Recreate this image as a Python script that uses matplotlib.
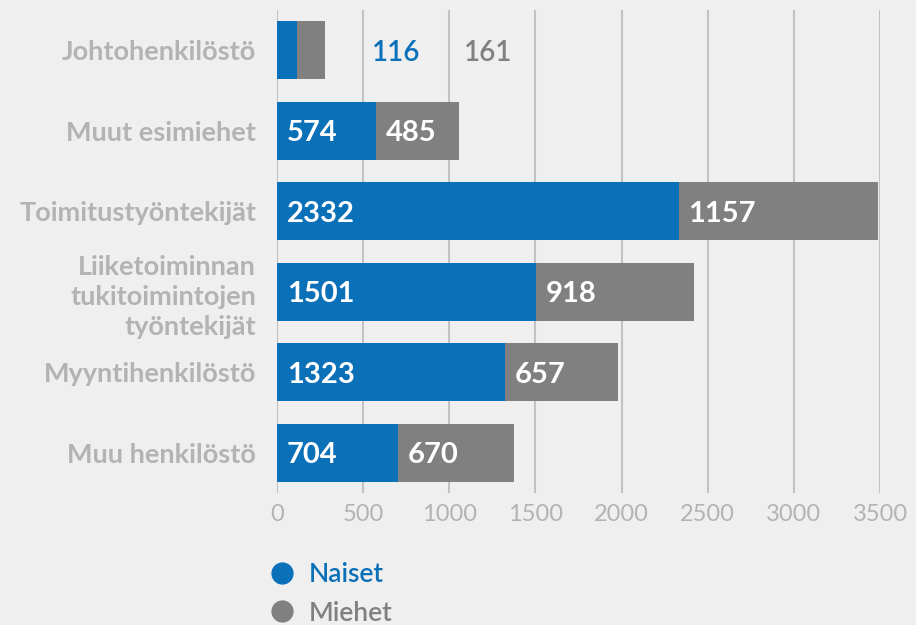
import matplotlib.pyplot as plt
from matplotlib.lines import Line2D

# data
categories = ["Johtohenkilöstö", "Muut esimiehet", "Toimitustyöntekijät",
              "Liiketoiminnan\ntukitoimintojen\ntyöntekijät",
              "Myyntihenkilöstö", "Muu henkilöstö"]
naiset = [116, 574, 2332, 1501, 1323, 704]
miehet = [161, 485, 1157, 918, 657, 670]
xticks = [0, 500, 1000, 1500, 2000, 2500, 3000, 3500]

BLUE = "#0a70b8"
GREY = "#808080"
BG = "#efefef"
LABEL_GREY = "#b3b3b3"

fig = plt.figure(figsize=(9.16, 6.25), dpi=100, facecolor=BG)
ax = fig.add_axes([277 / 916, 1 - 493 / 625, 603 / 916, 483 / 625])
ax.set_facecolor(BG)

y = list(range(len(categories)))
ax.barh(y, naiset, height=0.72, color=BLUE, zorder=2)
ax.barh(y, miehet, left=naiset, height=0.72, color=GREY, zorder=2)

for i, (n, m) in enumerate(zip(naiset, miehet)):
    if i == 0:
        # small bar: values outside
        ax.annotate(str(n), (n + m, i), xytext=(34, 0), textcoords="offset points",
                    ha="left", va="center_baseline", color=BLUE, fontsize=20,
                    fontfamily="Lato", fontweight="semibold")
        ax.annotate(str(m), (n + m, i), xytext=(100, 0), textcoords="offset points",
                    ha="left", va="center_baseline", color=GREY, fontsize=20,
                    fontfamily="Lato", fontweight="semibold")
        continue
    ax.annotate(str(n), (0, i), xytext=(7, 0), textcoords="offset points",
                ha="left", va="center_baseline", color="white", fontsize=21,
                fontfamily="Lato", fontweight="bold", zorder=3)
    ax.annotate(str(m), (n, i), xytext=(7, 0), textcoords="offset points",
                ha="left", va="center_baseline", color="white", fontsize=21,
                fontfamily="Lato", fontweight="bold", zorder=3)

ax.set_xlim(0, 3500)
ax.set_ylim(5.5, -0.5)
ax.set_xticks(xticks)
ax.set_xticklabels([str(t) for t in xticks], fontfamily="Lato",
                   fontsize=17, color=LABEL_GREY)
ax.set_yticks(y)
ax.set_yticklabels(categories, fontfamily="Lato", fontweight="bold",
                   fontsize=19.5, color=LABEL_GREY, linespacing=1.3)
ax.tick_params(axis="both", length=0)
ax.tick_params(axis="x", pad=8)
ax.tick_params(axis="y", pad=15)
ax.grid(axis="x", color="#c2c2c2", linewidth=1.5)
ax.set_axisbelow(True)
for s in ax.spines.values():
    s.set_visible(False)

handles = [Line2D([], [], marker="o", linestyle="", markersize=15, color=BLUE),
           Line2D([], [], marker="o", linestyle="", markersize=15, color=GREY)]
leg = fig.legend(handles, ["Naiset", "Miehet"], loc="upper left",
                 bbox_to_anchor=(237 / 916, 1 - 544 / 625), frameon=False,
                 labelcolor=[BLUE, GREY], handletextpad=0.0, labelspacing=0.5,
                 borderpad=0.2, prop={"family": "Lato", "weight": "semibold", "size": 19})

fig.savefig("out.png", dpi=100, facecolor=BG)
